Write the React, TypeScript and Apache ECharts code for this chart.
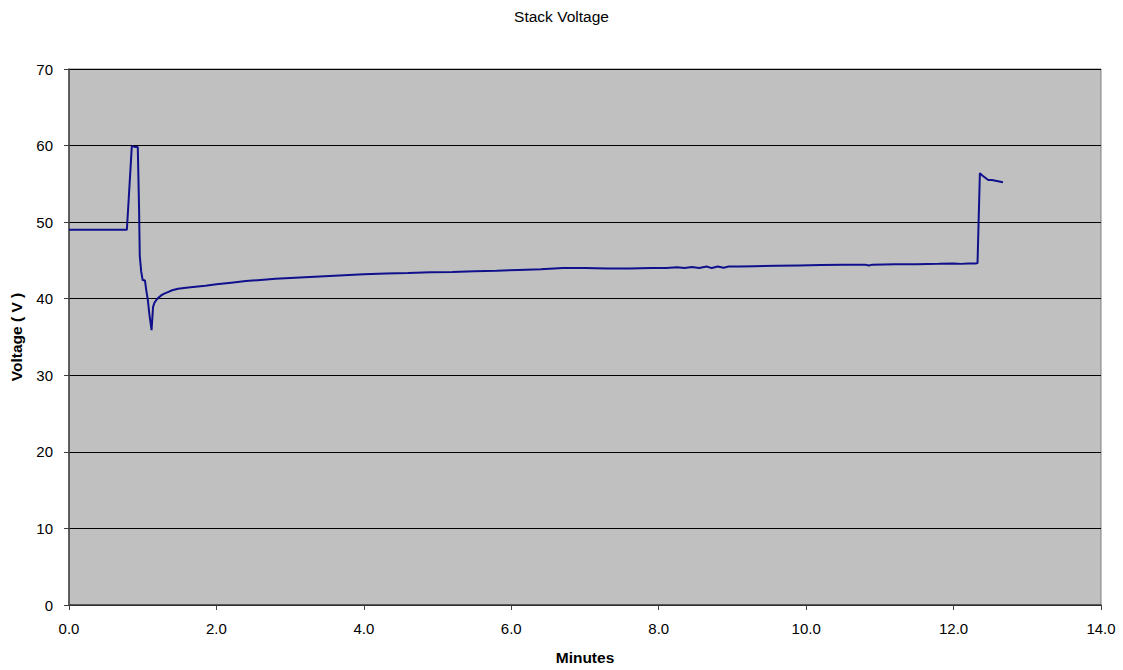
import React, { useEffect, useRef } from "react";
import * as echarts from "echarts";

const title = "Stack Voltage";
const xAxisTitle = "Minutes";
const yAxisTitle = "Voltage ( V )";

const minutes: number[] = [
  0, 0.785, 0.81, 0.83, 0.852, 0.87, 0.9, 0.933, 0.95, 0.96,
  0.98, 1.0, 1.03, 1.05, 1.07, 1.09, 1.12, 1.14, 1.16, 1.19,
  1.22, 1.26, 1.3, 1.35, 1.4, 1.48, 1.56, 1.65, 1.75, 1.85,
  2.0, 2.2, 2.4, 2.6, 2.8, 3.0, 3.2, 3.4, 3.6, 3.8,
  4.0, 4.3, 4.6, 4.9, 5.2, 5.5, 5.8, 6.1, 6.4, 6.7,
  7.0, 7.3, 7.6, 7.9, 8.1, 8.25, 8.35, 8.45, 8.55, 8.65,
  8.72, 8.8, 8.88, 8.95, 9.1, 9.3, 9.6, 9.9, 10.2, 10.5,
  10.8, 10.85, 10.9, 11.2, 11.5, 11.8, 12.0, 12.1, 12.2, 12.3,
  12.325, 12.357, 12.39, 12.43, 12.47, 12.52, 12.57, 12.62, 12.67,
];

const voltage: number[] = [
  49.0, 49.0, 53.0, 56.3, 59.9, 59.9, 59.8, 59.8, 52.0, 45.6,
  43.5, 42.4, 42.4, 41.0, 39.8, 38.0, 35.9, 38.9, 39.5, 39.9,
  40.2, 40.5, 40.7, 40.9, 41.1, 41.3, 41.4, 41.5, 41.6, 41.7,
  41.9, 42.1, 42.3, 42.45, 42.6, 42.7, 42.8, 42.9, 43.0, 43.1,
  43.2, 43.3, 43.35, 43.45, 43.5, 43.6, 43.65, 43.75, 43.85, 44.0,
  44.0, 43.95, 43.95, 44.0, 44.0, 44.1, 44.0, 44.15, 44.0, 44.2,
  44.0, 44.2, 44.05, 44.2, 44.2, 44.25, 44.3, 44.35, 44.4, 44.45,
  44.45, 44.35, 44.45, 44.5, 44.5, 44.55, 44.6, 44.55, 44.6, 44.6,
  44.65, 56.4, 56.1, 55.8, 55.5, 55.5, 55.4, 55.3, 55.2,
];

const FONT = "'Liberation Sans', Arial, sans-serif";

export default function App() {
  const ref = useRef<HTMLDivElement>(null);

  useEffect(() => {
    document.body.style.margin = "0";
    if (!ref.current) return;
    const chart = echarts.init(ref.current, null, { renderer: "svg" });
    const data = minutes.map((m, i) => [m, voltage[i]]);
    chart.setOption({
      animation: false,
      backgroundColor: "#ffffff",
      textStyle: { fontFamily: FONT, color: "#000" },
      title: {
        text: title,
        left: "center",
        top: 3,
        textStyle: { fontFamily: FONT, fontSize: 15.5, fontWeight: "normal", color: "#000" },
      },
      grid: {
        left: 65,
        right: 22,
        top: 69,
        bottom: 57,
        show: true,
        backgroundColor: "#C0C0C0",
        borderColor: "#808080",
        borderWidth: 1,
      },
      xAxis: {
        type: "value",
        min: 0,
        max: 14,
        interval: 2,
        name: xAxisTitle,
        nameLocation: "middle",
        nameGap: 44,
        nameTextStyle: { fontFamily: FONT, fontSize: 15.5, fontWeight: "bold", color: "#000" },
        axisLine: { show: true, onZero: false, lineStyle: { color: "#404040", width: 1.5 } },
        axisTick: { show: true, inside: false, length: 5, lineStyle: { color: "#404040" } },
        axisLabel: {
          fontFamily: FONT,
          fontSize: 15,
          color: "#000",
          margin: 16,
          formatter: (v: number) => v.toFixed(1),
        },
        splitLine: { show: false },
      },
      yAxis: {
        type: "value",
        min: 0,
        max: 70,
        interval: 10,
        name: yAxisTitle,
        nameLocation: "middle",
        nameGap: 45,
        nameRotate: 90,
        nameTextStyle: { fontFamily: FONT, fontSize: 15.5, fontWeight: "bold", color: "#000" },
        axisLine: { show: true, lineStyle: { color: "#404040", width: 1.5 } },
        axisTick: { show: true, inside: false, length: 5, lineStyle: { color: "#404040" } },
        axisLabel: { fontFamily: FONT, fontSize: 15, color: "#000", margin: 16 },
        splitLine: { show: true, lineStyle: { color: "#000000", width: 1 } },
      },
      series: [
        {
          type: "line",
          data,
          showSymbol: false,
          symbol: "none",
          smooth: false,
          lineStyle: { color: "#10108c", width: 2 },
        },
      ],
    });
    return () => chart.dispose();
  }, []);

  return (
    <div
      ref={ref}
      style={{ position: "fixed", left: 0, top: 0, width: 1123, height: 670 }}
    />
  );
}
